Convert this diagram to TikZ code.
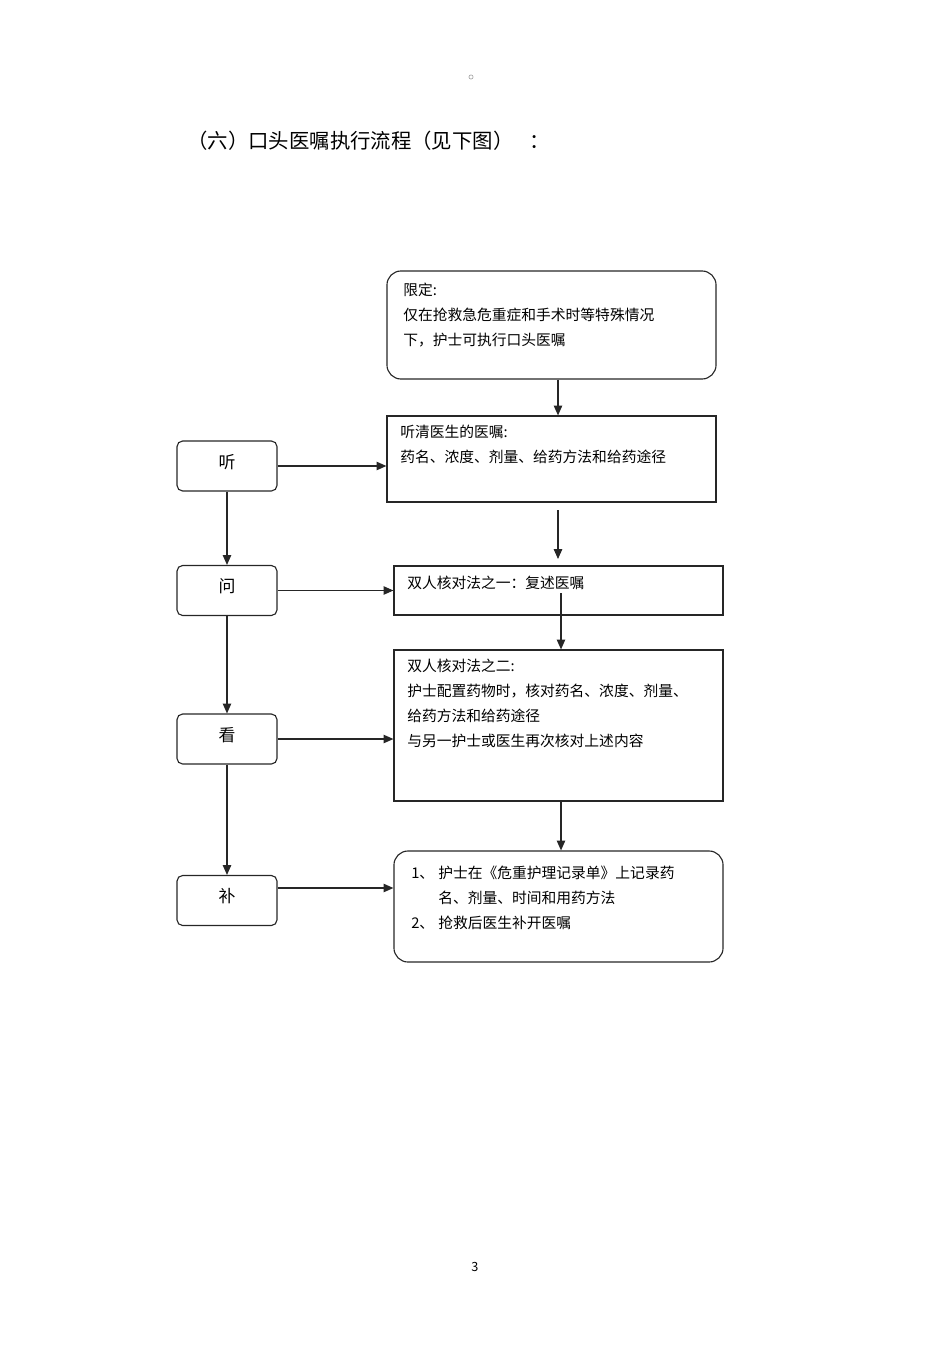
\documentclass[tikz,border=0pt]{standalone}
\usepackage{fontspec}
\setmainfont{Noto Sans CJK SC}
\usepackage{tikz}
\usetikzlibrary{arrows.meta,calc}

\begin{document}
\begin{tikzpicture}[
    x=0.025cm, y=-0.025cm,
    action/.style={rectangle, draw=black!85, line width=0.8pt, rounded corners=4pt, minimum width=2.5cm, minimum height=1.25cm, inner sep=0pt, text height=9pt, text depth=6pt, font=\fontsize{12}{14}\selectfont},
    wide/.style={rectangle, draw=black!85, line width=0.8pt, minimum width=8.225cm, inner sep=0pt},
    roundwide/.style={wide, rounded corners=10pt},
    note/.style={anchor=north west, inner sep=0pt, align=left, font=\fontsize{10.5}{17.8}\selectfont},
    arrow/.style={-{Triangle[length=7pt,width=6pt]}, line width=0.8pt, draw=black!85}
]
\useasboundingbox (0,0) rectangle (950,1345);

% Heading
\node[circle, draw=black!40, inner sep=0pt, minimum size=3pt] (mark) at (471,77) {};
\node[anchor=west, inner sep=0pt, font=\fontsize{14.5}{16}\selectfont] (title) at (187,141) {（六）口头医嘱执行流程（见下图）\hspace{0.8em}：};

% Right column
\node[roundwide, minimum height=2.7cm] (limit) at (551.5,325) {};
\node[note] (limit_text) at (403,283) {限定:\\仅在抢救急危重症和手术时等特殊情况\\下，护士可执行口头医嘱};

\node[wide, minimum height=2.15cm] (order) at (551.5,459) {};
\node[note] (order_text) at (400,425) {听清医生的医嘱:\\药名、浓度、剂量、给药方法和给药途径};

\node[wide, minimum height=1.225cm] (recite) at (558.5,590.5) {};
\node[note] (recite_text) at (407,576) {双人核对法之一：复述医嘱};

\node[wide, minimum height=3.775cm] (check) at (558.5,725.5) {};
\node[note] (check_text) at (407,659) {双人核对法之二:\\护士配置药物时，核对药名、浓度、剂量、\\给药方法和给药途径\\与另一护士或医生再次核对上述内容};

\node[roundwide, minimum height=2.775cm] (record) at (558.5,906.5) {};
\node[note] (record_text) at (411,866) {\makebox[0.675cm][l]{1、}护士在《危重护理记录单》上记录药\\\hspace*{0.675cm}名、剂量、时间和用药方法\\\makebox[0.675cm][l]{2、}抢救后医生补开医嘱};

% Left column
\node[action] (listen) at (227,466) {听};
\node[action] (ask) at (227,590.5) {问};
\node[action] (look) at (227,739) {看};
\node[action] (fill) at (227,900.5) {补};

% Free ends
\coordinate (gap_top) at (558,510);
\coordinate (gap_end) at (558,559);
\coordinate (recite_mid) at (561,593);

% Arrows
\draw[arrow] ($(limit.south)+(6.5,0)$) -- ($(order.north)+(6.5,0)$);
\draw[arrow] (gap_top) -- (gap_end);
\draw[arrow] (recite_mid) -- (recite_mid |- check.north);
\draw[arrow] ($(check.south)+(2.5,0)$) -- ($(record.north)+(2.5,0)$);

\draw[arrow] (listen.east) -- (listen.east -| order.west);
\draw[arrow] (ask.east) -- (ask.east -| recite.west);
\draw[arrow] (look.east) -- (look.east -| check.west);
\draw[arrow] ([yshift=0.3125cm]fill.east) -- ([yshift=0.3125cm]fill.east -| record.west);

\draw[arrow] (listen) -- (ask);
\draw[arrow] (ask) -- (look);
\draw[arrow] (look) -- (fill);

% Page number
\node[font=\fontsize{9}{10}\selectfont] (page) at (475,1267) {3};

\end{tikzpicture}
\end{document}
